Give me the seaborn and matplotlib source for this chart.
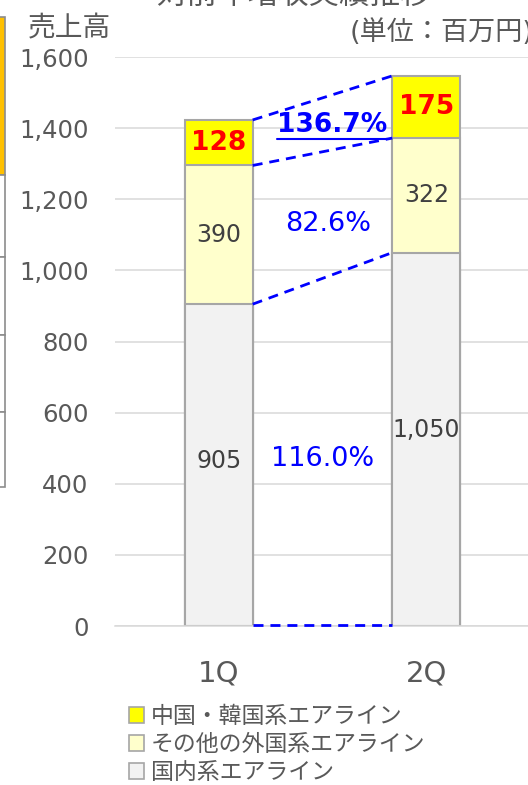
import matplotlib
matplotlib.use("Agg")
import matplotlib.pyplot as plt
from matplotlib.patches import Patch, Rectangle
from matplotlib.lines import Line2D
import seaborn as sns
import pandas as pd

# ---- data ----
quarters = ["1Q", "2Q"]
domestic = [905, 1050]          # 国内系エアライン
other_foreign = [390, 322]      # その他の外国系エアライン
china_korea = [128, 175]        # 中国・韓国系エアライン
series_names = ["中国・韓国系エアライン", "その他の外国系エアライン", "国内系エアライン"]
yticks = [0, 200, 400, 600, 800, 1000, 1200, 1400, 1600]

C_CK = "#ffff00"
C_OTHER = "#ffffcc"
C_DOM = "#f2f2f2"
EDGE = "#a6a6a6"
BLUE = "#0000ff"
GREY_TXT = "#595959"

sns.set_style("white")
plt.rcParams["font.family"] = ["DejaVu Sans", "Noto Sans CJK JP"]

W, H = 528, 785
fig = plt.figure(figsize=(W / 100, H / 100), dpi=100)
ax = fig.add_axes([115 / W, 1 - 626 / H, (530 - 115) / W, (626 - 57) / H])

lvl1 = [d for d in domestic]
lvl2 = [d + o for d, o in zip(domestic, other_foreign)]
lvl3 = [d + o + c for d, o, c in zip(domestic, other_foreign, china_korea)]
df = pd.DataFrame({"q": quarters, "l1": lvl1, "l2": lvl2, "l3": lvl3})

bw = 0.327
for col, colr in [("l3", C_CK), ("l2", C_OTHER), ("l1", C_DOM)]:
    sns.barplot(data=df, x="q", y=col, color=colr, saturation=1, width=bw,
                edgecolor=EDGE, linewidth=1.5, ax=ax, order=quarters, zorder=2)

ax.set_xlim(-0.5, 1.5)
ax.set_ylim(0, 1600)
ax.set_yticks(yticks)
ax.set_yticklabels([f"{v:,}" for v in yticks])
ax.set_xlabel("")
ax.set_ylabel("")
ax.set_axisbelow(True)
ax.yaxis.grid(True, color="#d9d9d9", lw=1.1)
for s in ["top", "right", "left"]:
    ax.spines[s].set_visible(False)
ax.spines["bottom"].set_color("#d9d9d9")
ax.spines["bottom"].set_linewidth(1.1)
ax.tick_params(axis="y", length=0, pad=19, labelsize=17.5, labelcolor=GREY_TXT)
ax.tick_params(axis="x", length=0, pad=24, labelsize=21, labelcolor=GREY_TXT)

# segment labels
for i in range(len(quarters)):
    ax.text(i, domestic[i] / 2 + 12 + 15 * i, f"{domestic[i]:,}", ha="center", va="center",
            fontsize=17, color="#404040", zorder=5)
    ax.text(i, lvl1[i] + other_foreign[i] / 2, f"{other_foreign[i]:,}", ha="center",
            va="center", fontsize=17, color="#404040", zorder=5)
    ax.text(i, lvl2[i] + china_korea[i] / 2, f"{china_korea[i]:,}", ha="center",
            va="center", fontsize=19, color="#ff0000", fontweight="bold", zorder=5)

# connector lines
x0, x1 = 0 + bw / 2, 1 - bw / 2
dash = (0, (3.6, 2.5))
for a, b in [(lvl3[0], lvl3[1]), (lvl2[0], lvl2[1]), (lvl1[0], lvl1[1]), (4, 4)]:
    ax.plot([x0, x1], [a, b], ls=dash, color=BLUE, lw=2, zorder=4, clip_on=False)

# growth rates
r_ck = china_korea[1] / china_korea[0] * 100
r_ot = other_foreign[1] / other_foreign[0] * 100
r_dm = domestic[1] / domestic[0] * 100
mid = lambda a, b: (a + b) / 2
y_ck = mid(mid(lvl3[0], lvl3[1]), mid(lvl2[0], lvl2[1]))
y_ot = mid(mid(lvl2[0], lvl2[1]), mid(lvl1[0], lvl1[1]))
y_dm = mid(mid(lvl1[0], lvl1[1]), 0) - 20
t_ck = ax.text(0.545, y_ck, f"{r_ck:.1f}%", ha="center", va="center", fontsize=19,
               color=BLUE, fontweight="bold", zorder=6)
ax.text(0.525, y_ot - 25, f"{r_ot:.1f}%", ha="center", va="center", fontsize=19.5,
        color=BLUE, zorder=6)
ax.text(0.5, y_dm, f"{r_dm:.1f}%", ha="center", va="center", fontsize=19.5,
        color=BLUE, zorder=6)

# underline for the bold rate
fig.canvas.draw()
bb = t_ck.get_window_extent(renderer=fig.canvas.get_renderer())
ul_y = bb.y0 - 1
fig.add_artist(Line2D([bb.x0 / W, bb.x1 / W], [ul_y / H, ul_y / H], color=BLUE,
                      lw=1.5, transform=fig.transFigure))

# texts
fig.text(293 / W, 1 + 5 / H, "対前年増収実績推移", ha="center", va="center",
         fontsize=22, color=GREY_TXT)
fig.text(350 / W, 1 - 33 / H, "(単位：百万円)", ha="left", va="center",
         fontsize=19.5, color=GREY_TXT)
fig.text(69 / W, 1 - 28 / H, "売上高", ha="center", va="center",
         fontsize=20, color=GREY_TXT)

# legend
handles = [Patch(facecolor=C_CK, edgecolor=EDGE, lw=1.2),
           Patch(facecolor=C_OTHER, edgecolor=EDGE, lw=1.2),
           Patch(facecolor=C_DOM, edgecolor=EDGE, lw=1.2)]
fig.legend(handles, series_names, loc="upper left", bbox_to_anchor=(129 / W, 1 - 705 / H),
           frameon=False, fontsize=16.5, handlelength=0.65, handleheight=0.65,
           handletextpad=0.3, labelspacing=0.22, borderaxespad=0, borderpad=0,
           labelcolor=GREY_TXT)

# cropped neighbouring table at left edge
def px_rect(xa, ya, xb, yb, fc):
    fig.add_artist(Rectangle((xa / W, 1 - yb / H), (xb - xa) / W, (yb - ya) / H,
                             facecolor=fc, edgecolor="#8c8c8c", lw=1.2,
                             transform=fig.transFigure))

px_rect(-3, 17, 4.5, 175, "#ffc000")
for ya, yb in [(175, 257), (257, 335), (335, 412), (412, 487)]:
    px_rect(-3, ya, 4.5, yb, "white")

fig.savefig("out.png", dpi=100)
